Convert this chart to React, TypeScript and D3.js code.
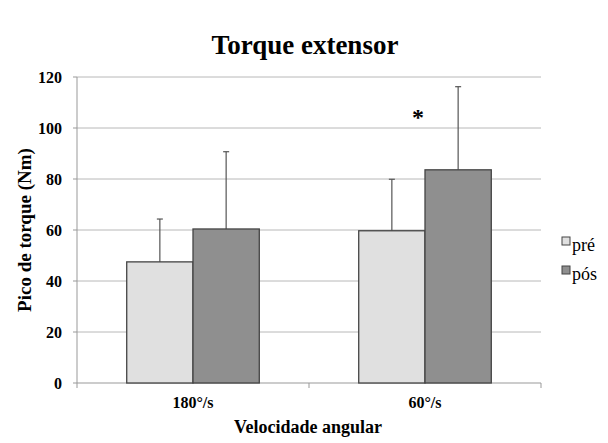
import React from 'react';
import * as d3 from 'd3';

const categories = ['180°/s', '60°/s'];
const seriesNames = ['pré', 'pós'];
const preValues = [47.5, 59.7];
const posValues = [60.4, 83.6];
const preErrors = [16.8, 20.2];
const posErrors = [30.3, 32.6];
const yTicks = [0, 20, 40, 60, 80, 100, 120];
const seriesColors = ['#e0e0e0', '#8f8f8f'];

const width = 608;
const height = 443;
const margin = { top: 77, right: 67, bottom: 60, left: 77 };

const App: React.FC = () => {
  const innerW = width - margin.left - margin.right;
  const innerH = height - margin.top - margin.bottom;

  const x = d3.scaleBand<string>().domain(categories).range([0, innerW]).padding(0);
  const xs = d3
    .scaleBand<string>()
    .domain(seriesNames)
    .range([0, x.bandwidth()])
    .paddingInner(0)
    .paddingOuter(0.75);
  const y = d3.scaleLinear().domain([0, 120]).range([innerH, 0]);

  const series = [
    { name: seriesNames[0], values: preValues, errors: preErrors, color: seriesColors[0] },
    { name: seriesNames[1], values: posValues, errors: posErrors, color: seriesColors[1] },
  ];

  return (
    <svg width={width} height={height} style={{ display: 'block' }}>
      <style>{`body{margin:0} svg text{font-family:"Liberation Serif","Times New Roman",serif}`}</style>
      <rect width={width} height={height} fill="#fff" />
      <text x={305} y={54} textAnchor="middle" fontSize={27} fontWeight="bold">
        Torque extensor
      </text>
      <g transform={`translate(${margin.left},${margin.top})`}>
        {/* gridlines */}
        {yTicks.filter(t => t > 0).map(t => (
          <line key={t} x1={0} x2={innerW} y1={y(t)} y2={y(t)} stroke="#b8b8b8" strokeWidth={1} />
        ))}
        {/* y axis */}
        <line x1={0} x2={0} y1={0} y2={innerH} stroke="#999" />
        {yTicks.map(t => (
          <g key={t} transform={`translate(0,${y(t)})`}>
            <line x1={-4} x2={0} stroke="#999" />
            <text x={-15} dy="0.35em" textAnchor="end" fontSize={16} fontWeight="bold">
              {t}
            </text>
          </g>
        ))}
        {/* x axis */}
        <line x1={0} x2={innerW} y1={innerH} y2={innerH} stroke="#999" />
        {[0, ...categories.map(c => (x(c) ?? 0) + x.bandwidth())].map((px, i) => (
          <line key={i} x1={px} x2={px} y1={innerH} y2={innerH + 5} stroke="#999" />
        ))}
        {categories.map(c => (
          <text
            key={c}
            x={(x(c) ?? 0) + x.bandwidth() / 2}
            y={innerH + 25}
            textAnchor="middle"
            fontSize={16}
            fontWeight="bold"
          >
            {c}
          </text>
        ))}
        {/* bars */}
        {series.map(s =>
          categories.map((c, i) => {
            const bx = (x(c) ?? 0) + (xs(s.name) ?? 0);
            const bw = xs.bandwidth();
            const top = y(s.values[i]);
            const errTop = y(s.values[i] + s.errors[i]);
            const cx = bx + bw / 2;
            return (
              <g key={s.name + c}>
                <line x1={cx} x2={cx} y1={top} y2={errTop} stroke="#555" strokeWidth={1.2} />
                <line x1={cx - 3} x2={cx + 3} y1={errTop} y2={errTop} stroke="#555" strokeWidth={1.2} />
                <rect
                  x={bx}
                  y={top}
                  width={bw}
                  height={innerH - top}
                  fill={s.color}
                  stroke="#444"
                  strokeWidth={1.3}
                />
              </g>
            );
          })
        )}
        {/* significance marker */}
        <text
          x={(x(categories[1]) ?? 0) + x.bandwidth() / 2 - 7}
          y={y(101)}
          textAnchor="middle"
          fontSize={24}
          fontWeight="bold"
        >
          *
        </text>
      </g>
      <text
        transform={`translate(31,${margin.top + innerH / 2}) rotate(-90)`}
        textAnchor="middle"
        fontSize={19}
        fontWeight="bold"
      >
        Pico de torque (Nm)
      </text>
      <text x={308} y={433} textAnchor="middle" fontSize={18} fontWeight="bold">
        Velocidade angular
      </text>
      {/* legend */}
      {series.map((s, i) => (
        <g key={s.name} transform={`translate(562,${237 + i * 29})`}>
          <rect width={8} height={8} fill={s.color} stroke="#444" strokeWidth={1} />
          <text x={10} y={14} fontSize={18}>
            {s.name}
          </text>
        </g>
      ))}
    </svg>
  );
};

export default App;
